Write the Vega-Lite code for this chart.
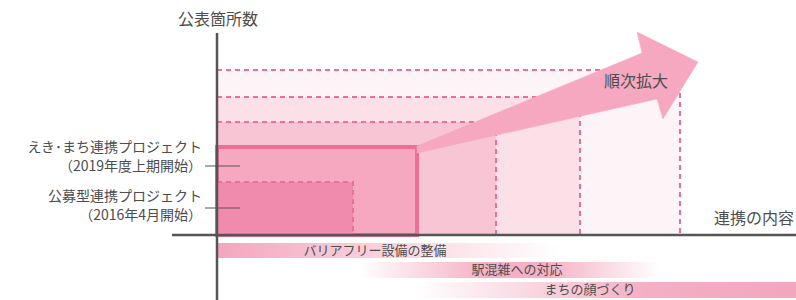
{
  "$schema": "https://vega.github.io/schema/vega-lite/v6.json",
  "width": 796,
  "height": 300,
  "padding": 0,
  "autosize": {"type": "none"},
  "background": "#ffffff",
  "config": {"view": {"stroke": null}, "text": {"font": "Noto Sans CJK JP", "color": "#4d4d4d"}},
  "datasets": {
    "stages": [
      {"stage": "拡大3", "outline": "dashed", "x0": 0, "x1": 463, "y0": 0, "y1": 165},
      {"stage": "拡大2", "outline": "dashed", "x0": 0, "x1": 363, "y0": 0, "y1": 138},
      {"stage": "拡大1", "outline": "dashed", "x0": 0, "x1": 279, "y0": 0, "y1": 113},
      {"stage": "えき・まち", "outline": "solid", "x0": 0, "x1": 200, "y0": 0, "y1": 88},
      {"stage": "公募型", "outline": "dashed", "x0": 0, "x1": 136, "y0": 0, "y1": 53}
    ],
    "arrow": [
      {"i": 1, "x": 200, "y": 89},
      {"i": 2, "x": 425, "y": 182},
      {"i": 3, "x": 420, "y": 203},
      {"i": 4, "x": 481, "y": 173},
      {"i": 5, "x": 446, "y": 116},
      {"i": 6, "x": 440, "y": 136},
      {"i": 7, "x": 200, "y": 82}
    ],
    "axes": [
      {"name": "公表箇所数", "x0": 0, "x1": 0, "y0": 202, "y1": -65},
      {"name": "連携の内容", "x0": -45, "x1": 579, "y0": 0, "y1": 0}
    ],
    "pointers": [
      {"project": "えき・まち", "x0": -12, "x1": 23, "y": 69},
      {"project": "公募型", "x0": -12, "x1": 23, "y": 27}
    ],
    "contents": [
      {"label": "バリアフリー設備の整備", "x0": 1, "x1": 343, "y0": -8, "y1": -23, "lx": 158, "ly": -15.5},
      {"label": "駅混雑への対応", "x0": 143, "x1": 443, "y0": -27, "y1": -43, "lx": 300, "ly": -35},
      {"label": "まちの顔づくり", "x0": 198, "x1": 579, "y0": -47, "y1": -63, "lx": 373, "ly": -55}
    ],
    "labels": [
      {"text": "公表箇所数", "x": 1, "y": 215, "pos": "center"},
      {"text": "順次拡大", "x": 419, "y": 153, "pos": "center"},
      {"text": "連携の内容", "x": 537, "y": 16, "pos": "center"},
      {"text": "えき･まち連携プロジェクト", "x": -15, "y": 87, "pos": "right"},
      {"text": "（2019年度上期開始）", "x": -15, "y": 68.5, "pos": "right"},
      {"text": "公募型連携プロジェクト", "x": -15, "y": 38, "pos": "right"},
      {"text": "（2016年4月開始）", "x": -15, "y": 19.5, "pos": "right"}
    ]
  },
  "layer": [
    {
      "data": {"name": "stages"},
      "transform": [{"filter": "datum.stage === '拡大3' || datum.stage === '拡大2' || datum.stage === '拡大1'"}],
      "mark": {"type": "rect", "stroke": "#f06d9b", "strokeWidth": 2, "strokeDash": [5, 4]},
      "encoding": {
        "x": {"field": "x0", "type": "quantitative", "scale": {"domain": [-217, 579], "nice": false, "zero": false}, "axis": null},
        "x2": {"field": "x1"},
        "y": {"field": "y0", "type": "quantitative", "scale": {"domain": [-65, 235], "nice": false, "zero": false}, "axis": null},
        "y2": {"field": "y1"},
        "fill": {"field": "stage", "type": "nominal", "scale": {"domain": ["拡大3", "拡大2", "拡大1", "えき・まち", "公募型"], "range": ["#fdf4f7", "#fce0e8", "#f8c5d4", "#f5a8c0", "#f18bad"]}, "legend": null}
      }
    },
    {
      "data": {"name": "stages"},
      "transform": [{"filter": "datum.stage === 'えき・まち'"}],
      "mark": {"type": "rect", "stroke": "#ef6e99", "strokeWidth": 4},
      "encoding": {
        "x": {"field": "x0", "type": "quantitative", "scale": {"domain": [-217, 579], "nice": false, "zero": false}, "axis": null},
        "x2": {"field": "x1"},
        "y": {"field": "y0", "type": "quantitative", "scale": {"domain": [-65, 235], "nice": false, "zero": false}, "axis": null},
        "y2": {"field": "y1"},
        "fill": {"field": "stage", "type": "nominal", "scale": {"domain": ["拡大3", "拡大2", "拡大1", "えき・まち", "公募型"], "range": ["#fdf4f7", "#fce0e8", "#f8c5d4", "#f5a8c0", "#f18bad"]}, "legend": null}
      }
    },
    {
      "data": {"name": "stages"},
      "transform": [{"filter": "datum.stage === '公募型'"}],
      "mark": {"type": "rect", "stroke": "#f06d9b", "strokeWidth": 2, "strokeDash": [5, 4]},
      "encoding": {
        "x": {"field": "x0", "type": "quantitative", "scale": {"domain": [-217, 579], "nice": false, "zero": false}, "axis": null},
        "x2": {"field": "x1"},
        "y": {"field": "y0", "type": "quantitative", "scale": {"domain": [-65, 235], "nice": false, "zero": false}, "axis": null},
        "y2": {"field": "y1"},
        "fill": {"field": "stage", "type": "nominal", "scale": {"domain": ["拡大3", "拡大2", "拡大1", "えき・まち", "公募型"], "range": ["#fdf4f7", "#fce0e8", "#f8c5d4", "#f5a8c0", "#f18bad"]}, "legend": null}
      }
    },
    {
      "data": {"name": "arrow"},
      "mark": {"type": "line", "interpolate": "linear-closed", "fill": "#f5a8c0", "stroke": "#f5a8c0", "strokeWidth": 0.5},
      "encoding": {
        "x": {"field": "x", "type": "quantitative", "scale": {"domain": [-217, 579], "nice": false, "zero": false}, "axis": null},
        "y": {"field": "y", "type": "quantitative", "scale": {"domain": [-65, 235], "nice": false, "zero": false}, "axis": null},
        "order": {"field": "i", "type": "quantitative"}
      }
    },
    {
      "data": {"name": "contents"},
      "transform": [{"filter": "datum.label === 'バリアフリー設備の整備'"}],
      "mark": {"type": "rect", "fill": {"gradient": "linear", "x1": 0, "x2": 1, "y1": 0, "y2": 0, "stops": [{"offset": 0, "color": "#f3a6be"}, {"offset": 0.3, "color": "#f7c2d1"}, {"offset": 0.68, "color": "#fce3ea"}, {"offset": 1, "color": "#ffffff"}]}},
      "encoding": {
        "x": {"field": "x0", "type": "quantitative", "scale": {"domain": [-217, 579], "nice": false, "zero": false}, "axis": null},
        "x2": {"field": "x1"},
        "y": {"field": "y0", "type": "quantitative", "scale": {"domain": [-65, 235], "nice": false, "zero": false}, "axis": null},
        "y2": {"field": "y1"}
      }
    },
    {
      "data": {"name": "contents"},
      "transform": [{"filter": "datum.label === '駅混雑への対応'"}],
      "mark": {"type": "rect", "fill": {"gradient": "linear", "x1": 0, "x2": 1, "y1": 0, "y2": 0, "stops": [{"offset": 0, "color": "#ffffff"}, {"offset": 0.42, "color": "#f5b0c5"}, {"offset": 0.62, "color": "#f5b0c5"}, {"offset": 1, "color": "#ffffff"}]}},
      "encoding": {
        "x": {"field": "x0", "type": "quantitative", "scale": {"domain": [-217, 579], "nice": false, "zero": false}, "axis": null},
        "x2": {"field": "x1"},
        "y": {"field": "y0", "type": "quantitative", "scale": {"domain": [-65, 235], "nice": false, "zero": false}, "axis": null},
        "y2": {"field": "y1"}
      }
    },
    {
      "data": {"name": "contents"},
      "transform": [{"filter": "datum.label === 'まちの顔づくり'"}],
      "mark": {"type": "rect", "fill": {"gradient": "linear", "x1": 0, "x2": 1, "y1": 0, "y2": 0, "stops": [{"offset": 0, "color": "#ffffff"}, {"offset": 0.6, "color": "#f5afc4"}, {"offset": 1, "color": "#f3a6be"}]}},
      "encoding": {
        "x": {"field": "x0", "type": "quantitative", "scale": {"domain": [-217, 579], "nice": false, "zero": false}, "axis": null},
        "x2": {"field": "x1"},
        "y": {"field": "y0", "type": "quantitative", "scale": {"domain": [-65, 235], "nice": false, "zero": false}, "axis": null},
        "y2": {"field": "y1"}
      }
    },
    {
      "data": {"name": "axes"},
      "mark": {"type": "rule", "color": "#555555", "strokeWidth": 2.5},
      "encoding": {
        "x": {"field": "x0", "type": "quantitative", "scale": {"domain": [-217, 579], "nice": false, "zero": false}, "axis": null},
        "x2": {"field": "x1"},
        "y": {"field": "y0", "type": "quantitative", "scale": {"domain": [-65, 235], "nice": false, "zero": false}, "axis": null},
        "y2": {"field": "y1"}
      }
    },
    {
      "data": {"name": "pointers"},
      "mark": {"type": "rule", "color": "#555555", "strokeWidth": 1},
      "encoding": {
        "x": {"field": "x0", "type": "quantitative", "scale": {"domain": [-217, 579], "nice": false, "zero": false}, "axis": null},
        "x2": {"field": "x1"},
        "y": {"field": "y", "type": "quantitative", "scale": {"domain": [-65, 235], "nice": false, "zero": false}, "axis": null}
      }
    },
    {
      "data": {"name": "contents"},
      "mark": {"type": "text", "fontSize": 13, "align": "center", "baseline": "middle"},
      "encoding": {
        "x": {"field": "lx", "type": "quantitative", "scale": {"domain": [-217, 579], "nice": false, "zero": false}, "axis": null},
        "y": {"field": "ly", "type": "quantitative", "scale": {"domain": [-65, 235], "nice": false, "zero": false}, "axis": null},
        "text": {"field": "label"}
      }
    },
    {
      "data": {"name": "labels"},
      "transform": [{"filter": "datum.pos === 'center'"}],
      "mark": {"type": "text", "fontSize": 16, "align": "center", "baseline": "middle"},
      "encoding": {
        "x": {"field": "x", "type": "quantitative", "scale": {"domain": [-217, 579], "nice": false, "zero": false}, "axis": null},
        "y": {"field": "y", "type": "quantitative", "scale": {"domain": [-65, 235], "nice": false, "zero": false}, "axis": null},
        "text": {"field": "text"}
      }
    },
    {
      "data": {"name": "labels"},
      "transform": [{"filter": "datum.pos === 'right'"}],
      "mark": {"type": "text", "fontSize": 14, "align": "right", "baseline": "middle"},
      "encoding": {
        "x": {"field": "x", "type": "quantitative", "scale": {"domain": [-217, 579], "nice": false, "zero": false}, "axis": null},
        "y": {"field": "y", "type": "quantitative", "scale": {"domain": [-65, 235], "nice": false, "zero": false}, "axis": null},
        "text": {"field": "text"}
      }
    }
  ]
}
